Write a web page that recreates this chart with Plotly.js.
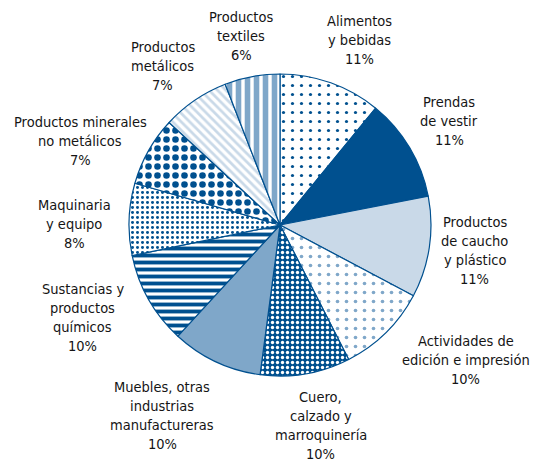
<!DOCTYPE html>
<html><head><meta charset="utf-8">
<script src="https://cdn.plot.ly/plotly-3.0.1.min.js"></script>
<style>body{margin:0;background:#fff}#chart{width:535px;height:464px}</style>
</head><body><div id="chart"></div>
<script>
const categories = [
  "Alimentos<br>y bebidas",
  "Prendas<br>de vestir",
  "Productos<br>de caucho<br>y plástico",
  "Actividades de<br>edición e impresión",
  "Cuero,<br>calzado y<br>marroquinería",
  "Muebles, otras<br>industrias<br>manufactureras",
  "Sustancias y<br>productos<br>químicos",
  "Maquinaria<br>y equipo",
  "Productos minerales<br>no metálicos",
  "Productos<br>metálicos",
  "Productos<br>textiles"
];
const values = [10.9, 11.0, 10.8, 9.7, 9.6, 9.7, 9.9, 7.7, 7.4, 7.2, 5.9];
const pctLabels = ["11%", "11%", "11%", "10%", "10%", "10%", "10%", "8%", "7%", "7%", "6%"];

// ---- styling / layout (not data) ----
const DARK = "#00508F", MID = "#7FA7C9", LIGHT = "#C9D9E8", W = "#ffffff";
const bgcols   = [W, DARK, LIGHT, W, DARK, MID, W, W, W, W, W];
const shapes   = [".", "", "", ".", ".", "", "-", ".", ".", "\\", "|"];
const fgcolors = [DARK, DARK, LIGHT, MID, W, MID, DARK, DARK, DARK, LIGHT, MID];
const sizes    = [9, 8, 8, 9, 5, 8, 7, 5, 9, 6, 9];
const solids   = [0.1, 0.3, 0.3, 0.13, 0.35, 0.3, 0.55, 0.28, 0.42, 0.45, 0.62];

const W_PX = 535, H_PX = 464;
const CX = 280, CY = 225, R = 151, LABEL_R = 205, LINE_H = 19;
const FONT = {family: "DejaVu Sans Condensed, Liberation Sans, sans-serif", size: 14.5, color: "#151515"};
// small per-label nudges (px) to mimic the reference label placement
const labelNudge = [[11, 8], [-7, 1], [-8, -5], [42, -11], [6, -2], [-31, 5], [-19, -9], [-1, 7], [-21, 17], [-2, 10], [-1, 12]];

const total = values.reduce((a, b) => a + b, 0);
let cum = 0;
const annotations = [];
values.forEach((v, i) => {
  const mid = (cum + v / 2) / total * 2 * Math.PI;
  cum += v;
  const px = CX + LABEL_R * Math.sin(mid) + labelNudge[i][0];
  const py = CY - LABEL_R * Math.cos(mid) + labelNudge[i][1];
  const lines = (categories[i] + "<br>" + pctLabels[i]).split("<br>");
  lines.forEach((ln, j) => {
    const ly = py + (j - (lines.length - 1) / 2) * LINE_H;
    annotations.push({
      xref: "paper", yref: "paper", x: px / W_PX, y: 1 - ly / H_PX,
      xanchor: "center", yanchor: "middle", align: "center", showarrow: false,
      text: ln, font: FONT
    });
  });
});

Plotly.newPlot("chart", [{
  type: "pie",
  labels: categories,
  values: values,
  sort: false,
  direction: "clockwise",
  rotation: 0,
  textinfo: "none",
  marker: {
    colors: bgcols,
    line: {color: DARK, width: 1.2},
    pattern: {shape: shapes, fgcolor: fgcolors, bgcolor: bgcols, size: sizes, solidity: solids, fillmode: "replace", fgopacity: 1}
  },
  showlegend: false,
  hoverinfo: "skip",
  domain: {x: [(CX - R) / W_PX, (CX + R) / W_PX], y: [1 - (CY + R) / H_PX, 1 - (CY - R) / H_PX]}
}], {
  width: W_PX, height: H_PX,
  margin: {l: 0, r: 0, t: 0, b: 0},
  paper_bgcolor: "#fff",
  showlegend: false,
  annotations: annotations
}, {displayModeBar: false, staticPlot: true});
</script></body></html>
